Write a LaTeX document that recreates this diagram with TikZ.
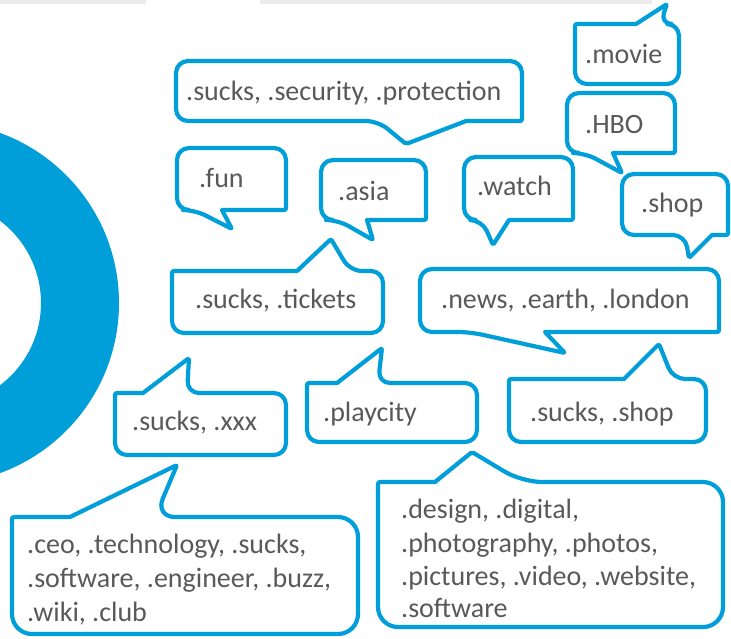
\documentclass[tikz,border=0pt]{standalone}
\usepackage{fontspec}
\setmainfont{Carlito}
\usetikzlibrary{shadows}
\definecolor{cblue}{HTML}{009FDA}
\definecolor{ctext}{HTML}{595959}
\definecolor{cbar}{HTML}{EBEBEB}
% bubble with tail at the bottom: L T R B xa tipx tipy xb radius
\newcommand\bubD[9]{%
  \draw[bub] (#6,#7) -- (#8,#4) [rounded corners=2pt] -- (#3,#4) [rounded corners=#9] -- (#3,#2) -- (#1,#2) -- (#1,#4) -- (#5,#4) [rounded corners=2pt] -- cycle;}
% bubble with tail at the top: L T R B xa tipx tipy xb radius
\newcommand\bubU[9]{%
  \draw[bub] (#6,#7) -- (#5,#2) [rounded corners=2pt] -- (#1,#2) [rounded corners=#9] -- (#1,#4) -- (#3,#4) -- (#3,#2) -- (#8,#2) [rounded corners=2pt] -- cycle;}
\begin{document}
\begin{tikzpicture}[x=1pt,y=-1pt,
  bub/.style={draw=cblue, line width=4.2pt, fill=white, line join=round,
    drop shadow={shadow xshift=1pt, shadow yshift=-1.5pt, opacity=0.18, fill=black}},
  lbl/.style={inner sep=0pt, anchor=base west, text=ctext, font=\fontsize{28}{34}\selectfont}]
\useasboundingbox (0,0) rectangle (731,638);
\fill[white] (0,0) rectangle (731,638);
% top bars
\fill[cbar] (0,0) rectangle (146,4);
\fill[cbar] (260,0) rectangle (652,4);
% ring
\begin{scope}
  \clip (0,0) rectangle (731,638);
  \fill[cblue, even odd rule] (-62,303) circle (181) (-62,303) circle (103);
\end{scope}
% bubbles, tail down
\bubD{176}{61}{522}{121}{378}{406}{144}{466}{12pt}
\bubD{177}{148}{286}{210}{195}{232}{229}{222}{12pt}
\bubD{321}{160}{426}{220}{338}{373}{240}{367}{12pt}
\bubD{464}{157}{573}{220}{482}{493}{245}{509}{12pt}
\bubD{567}{93}{675}{153}{585}{622}{173}{613}{12pt}
\bubD{622}{174}{728}{235}{685}{689}{258}{712}{12pt}
\bubD{420}{269}{719}{332}{470}{565}{353}{545}{12pt}
% bubbles, tail up
\bubU{575}{24}{679}{84}{636}{667}{4}{660}{12pt}
\bubU{172}{271}{383}{333}{297}{331}{239}{350}{12pt}
\bubU{115}{393}{286}{455}{143}{189}{358}{187}{12pt}
\bubU{307}{383}{477}{442}{337}{382}{348}{378}{12pt}
\bubU{509}{379}{706}{442}{624}{659}{344}{673}{12pt}
\bubU{12}{517}{358}{634}{70}{177}{465}{155}{20pt}
\bubU{378}{482}{723}{627}{435}{472}{452}{522}{20pt}
% labels
\node[lbl] (movie) at (585,63) {.movie};
\node[lbl] (hbo) at (585,133) {.HBO};
\node[lbl] (shop) at (641,212) {.shop};
\node[lbl] (sec) at (186,100) {.sucks, .security, .protection};
\node[lbl] (fun) at (199,187) {.fun};
\node[lbl] (asia) at (338,200) {.asia};
\node[lbl] (watch) at (477,195) {.watch};
\node[lbl] (tickets) at (195,308) {.sucks, .tickets};
\node[lbl] (news) at (441,308) {.news, .earth, .london};
\node[lbl] (xxx) at (132,430) {.sucks, .xxx};
\node[lbl] (playcity) at (323,421) {.playcity};
\node[lbl] (suckshop) at (530,421) {.sucks, .shop};
\node[lbl] (ceo1) at (27,553) {.ceo, .technology, .sucks,};
\node[lbl] (ceo2) at (27,587) {.software, .engineer, .buzz,};
\node[lbl] (ceo3) at (27,621) {.wiki, .club};
\node[lbl] (des1) at (401,518) {.design, .digital,};
\node[lbl] (des2) at (401,552) {.photography, .photos,};
\node[lbl] (des3) at (401,585) {.pictures, .video, .website,};
\node[lbl] (des4) at (401,617) {.software};
\end{tikzpicture}
\end{document}
